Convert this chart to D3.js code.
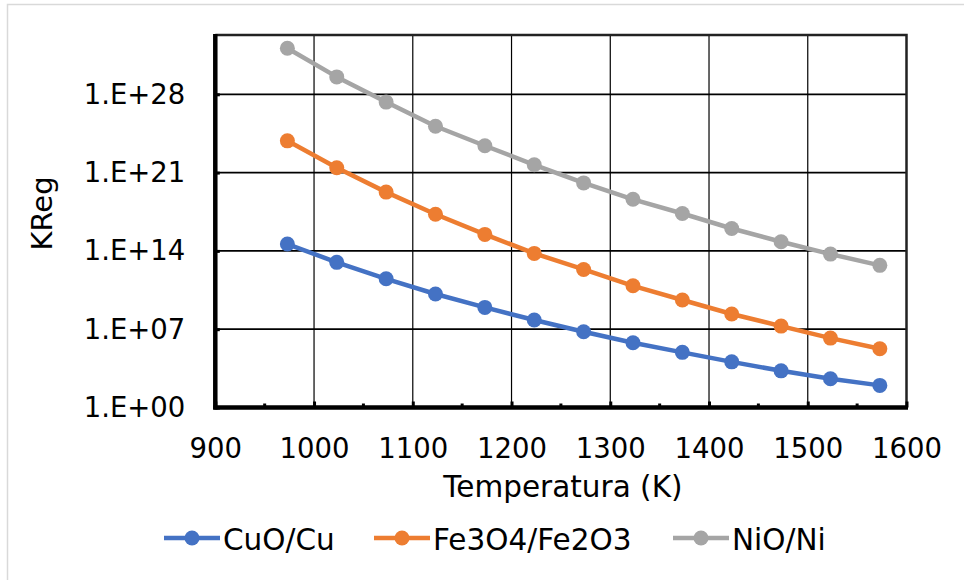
<!DOCTYPE html>
<meta charset="utf-8">
<html>
<head>
<title>KReg</title>
<script src="https://d3js.org/d3.v7.min.js"></script>
<style>
  body { margin: 0; background: #fff; }
  text { font-family: Verdana, "DejaVu Sans", sans-serif; fill: #000; }
</style>
</head>
<body>
<div id="chart"></div>
<script>
/* data */
var temps = [973, 1023, 1073, 1123, 1173, 1223, 1273, 1323, 1373, 1423, 1473, 1523, 1573];
var cuo = [4.1e14, 9.5e12, 3.2e11, 1.4e10, 8.9e8, 6.6e7, 5.9e6, 6.2e5, 8.5e4, 1.2e4, 1.9e3, 3.7e2, 95];
var fe = [6.9e23, 2.7e21, 1.8e19, 1.9e17, 3.0e15, 6.0e13, 2.2e12, 7.6e10, 4.1e9, 2.3e8, 1.9e7, 1.6e6, 1.8e5];
var nio = [1.3e32, 3.6e29, 2.0e27, 1.4e25, 2.5e23, 5.0e21, 1.2e20, 4.1e18, 2.2e17, 1.0e16, 6.6e14, 5.2e13, 5.1e12];
var seriesNames = ["CuO/Cu", "Fe3O4/Fe2O3", "NiO/Ni"];
var yTicks = [1, 1e7, 1e14, 1e21, 1e28];
var xTicks = [900, 1000, 1100, 1200, 1300, 1400, 1500, 1600];
var xMinor = [950, 1050, 1150, 1250, 1350, 1450, 1550];

var colors = ["#4472C4", "#ED7D31", "#A5A5A5"];
var series = [cuo, fe, nio].map(function(v, i) {
    return { name: seriesNames[i], color: colors[i],
             values: v.map(function(d, j) { return { t: temps[j], k: d }; }) };
});

/* layout */
var W = 964, H = 580;
var plot = { left: 215.3, right: 906.5, top: 35, bottom: 407.5 };

var svg = d3.select("#chart").append("svg")
    .attr("width", W).attr("height", H);

/* chart area border */
svg.append("rect")
    .attr("x", 7.5).attr("y", 4.5)
    .attr("width", 1000).attr("height", 1000)
    .attr("fill", "none").attr("stroke", "#d9d9d9").attr("stroke-width", 1.5);

var x = d3.scaleLinear().domain([900, 1600]).range([plot.left, plot.right]);
var y = d3.scaleLog().domain([1, 2e33]).range([plot.bottom, plot.top]);

/* gridlines */
var grid = svg.append("g");
grid.selectAll(".hg").data(yTicks.slice(1)).enter().append("line")
    .attr("x1", plot.left).attr("x2", plot.right)
    .attr("y1", function(d) { return y(d); }).attr("y2", function(d) { return y(d); })
    .attr("stroke", "#000").attr("stroke-width", 1.8);
grid.selectAll(".vg").data(xTicks.slice(1, -1)).enter().append("line")
    .attr("y1", plot.top).attr("y2", plot.bottom)
    .attr("x1", function(d) { return x(d); }).attr("x2", function(d) { return x(d); })
    .attr("stroke", "#000").attr("stroke-width", 1.2);

/* plot frame top / right */
svg.append("path")
    .attr("d", "M" + plot.left + "," + plot.top + "H" + plot.right + "V" + plot.bottom)
    .attr("fill", "none").attr("stroke", "#222").attr("stroke-width", 2.5);

/* minor ticks on x axis */
svg.append("g").selectAll("line").data(xMinor).enter().append("line")
    .attr("x1", function(d) { return x(d); }).attr("x2", function(d) { return x(d); })
    .attr("y1", plot.bottom).attr("y2", plot.bottom - 4)
    .attr("stroke", "#000").attr("stroke-width", 3);

/* axes */
var xAxis = d3.axisBottom(x).tickValues(xTicks).tickSizeInner(-6).tickSizeOuter(0).tickPadding(31)
    .tickFormat(d3.format("d"));
var gx = svg.append("g").attr("transform", "translate(0," + plot.bottom + ")").call(xAxis);
gx.select(".domain").attr("stroke", "#000").attr("stroke-width", 4.5)
    .attr("d", "M" + (plot.left - 2) + ",0H" + (plot.right + 1.5));
gx.selectAll(".tick line").attr("stroke-width", 3);
gx.selectAll(".tick text").attr("font-size", "27.5px")
    .style("font-family", "Verdana, 'DejaVu Sans', sans-serif").attr("fill", "#000");

var yAxis = d3.axisLeft(y).tickValues(yTicks).tickSizeInner(-4.5).tickSizeOuter(0).tickPadding(30)
    .tickFormat(function(d) {
        var e = Math.round(Math.log10(d));
        return "1.E+" + (e < 10 ? "0" + e : e);
    });
var gy = svg.append("g").attr("transform", "translate(" + plot.left + ",0)").call(yAxis);
gy.select(".domain").attr("stroke", "#000").attr("stroke-width", 4.5)
    .attr("d", "M0," + (plot.top - 1) + "V" + (plot.bottom + 2));
gy.selectAll(".tick line").attr("stroke-width", 3);
gy.selectAll(".tick text").attr("font-size", "27.5px")
    .style("font-family", "Verdana, 'DejaVu Sans', sans-serif").attr("fill", "#000");

/* axis titles */
svg.append("text")
    .attr("x", (plot.left + plot.right) / 2 + 2).attr("y", 497)
    .attr("text-anchor", "middle").attr("font-size", "29.5px")
    .text("Temperatura (K)");
svg.append("text")
    .attr("transform", "translate(52," + 213.5 + ") rotate(-90)")
    .attr("text-anchor", "middle").attr("font-size", "29px")
    .text("KReg");

/* series */
var line = d3.line().x(function(d) { return x(d.t); }).y(function(d) { return y(d.k); });
var sg = svg.append("g").selectAll("g").data(series).enter().append("g");
sg.append("path")
    .attr("d", function(d) { return line(d.values); })
    .attr("fill", "none").attr("stroke", function(d) { return d.color; })
    .attr("stroke-width", 4.5).attr("stroke-linejoin", "round");
sg.selectAll("circle").data(function(d) { return d.values.map(function(v) { v.c = d.color; return v; }); })
    .enter().append("circle")
    .attr("cx", function(d) { return x(d.t); }).attr("cy", function(d) { return y(d.k); })
    .attr("r", 7.5).attr("fill", function(d) { return d.c; });

/* legend */
var legendX = [164, 374, 673];
var lg = svg.append("g").selectAll("g").data(series).enter().append("g")
    .attr("transform", function(d, i) { return "translate(" + legendX[i] + ",538)"; });
lg.append("line").attr("x1", 0).attr("x2", 56).attr("y1", 0).attr("y2", 0)
    .attr("stroke", function(d) { return d.color; }).attr("stroke-width", 4.5);
lg.append("circle").attr("cx", 28).attr("cy", 0).attr("r", 7.5)
    .attr("fill", function(d) { return d.color; });
lg.append("text").attr("x", 59).attr("y", 11.5).attr("font-size", "29.5px")
    .text(function(d) { return d.name; });
</script>
</body>
</html>
